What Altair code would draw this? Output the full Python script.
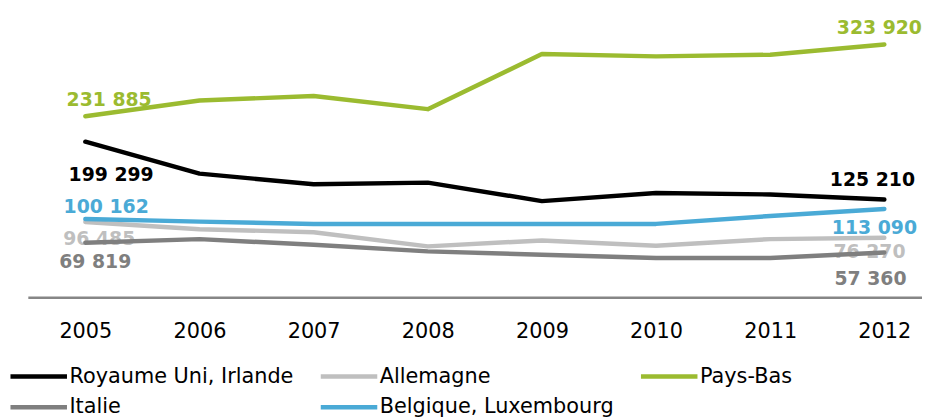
import altair as alt
import pandas as pd

years = [2005, 2006, 2007, 2008, 2009, 2010, 2011, 2012]
series_names = ["Royaume Uni, Irlande", "Allemagne", "Pays-Bas", "Italie", "Belgique, Luxembourg"]
royaume_uni = [199299, 158400, 144800, 146900, 123200, 133700, 131700, 125210]
allemagne = [96485, 87200, 83400, 65200, 72800, 66000, 74500, 76270]
pays_bas = [231885, 252100, 257800, 241000, 311600, 308600, 310700, 323920]
italie = [69819, 74500, 67300, 58800, 54600, 50400, 50400, 57360]
belgique = [100162, 96900, 94000, 94000, 94000, 94000, 104100, 113090]
colors = ["#000000", "#BFBFBF", "#9BBB30", "#7F7F7F", "#4AAAD6"]

values = [royaume_uni, allemagne, pays_bas, italie, belgique]
rows = []
for name, vals in zip(series_names, values):
    for y, v in zip(years, vals):
        rows.append({"year": y, "value": v, "series": name})
df = pd.DataFrame(rows)

label_offsets = [
    ("Pays-Bas", 2005, 24, -10),
    ("Royaume Uni, Irlande", 2005, 26, 40),
    ("Belgique, Luxembourg", 2005, 21, -6),
    ("Allemagne", 2005, 14, 23),
    ("Italie", 2005, 10, 25),
    ("Pays-Bas", 2012, -5, -11),
    ("Royaume Uni, Irlande", 2012, -12, -14),
    ("Belgique, Luxembourg", 2012, -10, 25),
    ("Allemagne", 2012, -15, 20),
    ("Italie", 2012, -14, 33),
]

FONT = "DejaVu Sans"
x_scale = alt.Scale(domain=[2004.496, 2012.33], nice=False, zero=False)
y_scale = alt.Scale(domain=[0, 368300], nice=False)
color_scale = alt.Scale(domain=series_names, range=colors)


def x_axis():
    return alt.Axis(values=years, format="d", title=None, grid=False, ticks=False,
                    labelPadding=24, labelFont=FONT, labelFontSize=21,
                    labelColor="#000000", domainColor="#868686", domainWidth=2.5)


lines = alt.Chart(df).mark_line(strokeWidth=4.5, strokeCap="round", strokeJoin="round").encode(
    x=alt.X("year:Q", scale=x_scale, axis=x_axis()),
    y=alt.Y("value:Q", scale=y_scale, axis=None),
    color=alt.Color("series:N", scale=color_scale,
                    legend=alt.Legend(title=None, orient="none", legendX=-20, legendY=359,
                                      direction="horizontal", columns=3, symbolType="stroke",
                                      symbolSize=3249, symbolStrokeWidth=4.5, clipHeight=22,
                                      rowPadding=9, columnPadding=24,
                                      labelFont=FONT, labelFontSize=21, labelColor="#000000",
                                      labelLimit=400, labelOffset=0, padding=0)),
)

layers = []
for name, yr, dx, dy in label_offsets:
    v = values[series_names.index(name)][years.index(yr)]
    col = colors[series_names.index(name)]
    sub = pd.DataFrame({"year": [yr], "value": [v],
                        "label": [f"{v:,}".replace(",", " ")]})
    t = alt.Chart(sub).mark_text(
        font=FONT, fontSize=19, fontWeight="bold", color=col,
        align="center", baseline="alphabetic", dx=dx, dy=dy
    ).encode(
        x=alt.X("year:Q", scale=x_scale, axis=x_axis()),
        y=alt.Y("value:Q", scale=y_scale, axis=None),
        text=alt.Text("label:N"),
    )
    layers.append(t)
layers.append(lines)

chart = alt.layer(*layers).properties(
    width=902, height=290, padding=0
).configure_view(stroke=None)

chart.save("out.html", embed_options={"renderer": "svg", "actions": False})
